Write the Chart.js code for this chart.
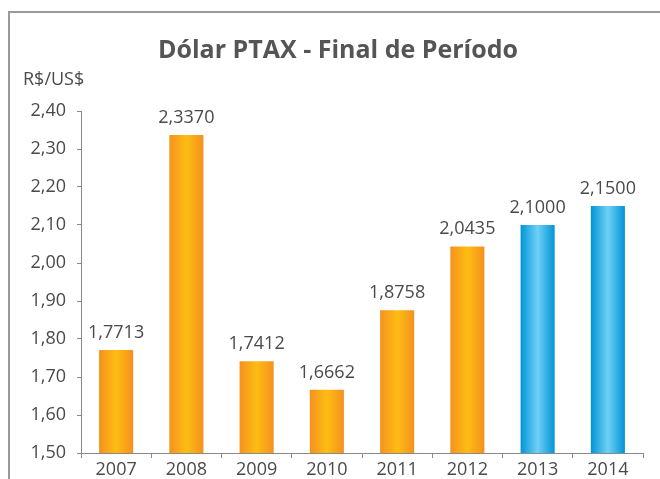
<!DOCTYPE html>
<html><head><meta charset="utf-8">
<script src="https://cdn.jsdelivr.net/npm/chart.js@4/dist/chart.umd.min.js"></script>
<style>
html,body{margin:0;padding:0;background:#fff;width:660px;height:479px;overflow:hidden;}
#frame{position:absolute;left:8px;top:11px;width:700px;height:520px;border-top:2px solid #9a9a9a;border-left:2px solid #9a9a9a;}
#c{position:absolute;left:0;top:0;}
</style></head>
<body>
<div id="frame"></div>
<canvas id="c" width="660" height="479"></canvas>
<script>
const categories = ['2007','2008','2009','2010','2011','2012','2013','2014'];
const values = [1.7713, 2.3370, 1.7412, 1.6662, 1.8758, 2.0435, 2.1000, 2.1500];
const isProjection = [false,false,false,false,false,false,true,true];
const yTicks = [1.5,1.6,1.7,1.8,1.9,2.0,2.1,2.2,2.3,2.4];
const titleText = 'Dólar PTAX - Final de Período';
const unitText = 'R$/US$';

const FONT = '"Open Sans", "Noto Sans", sans-serif';
const TXT = '#4a4a4a';
const BAR_PCT = 0.485;

function barFill(context){
  const chart = context.chart;
  const xs = chart.scales && chart.scales.x;
  const i = context.dataIndex;
  if(!xs || i === undefined || !isFinite(xs.getPixelForValue(i))) return '#f5a01a';
  const cx = xs.getPixelForValue(i);
  const w = (xs.width / categories.length) * BAR_PCT;
  const g = chart.ctx.createLinearGradient(cx - w/2, 0, cx + w/2, 0);
  if(isProjection[i]){
    g.addColorStop(0,'#0095d6'); g.addColorStop(0.5,'#6fd0f6'); g.addColorStop(1,'#0095d6');
  } else {
    g.addColorStop(0,'#f5911f'); g.addColorStop(0.5,'#fdbd12'); g.addColorStop(1,'#f5911f');
  }
  return g;
}

const labelPlugin = {
  id:'labels',
  afterDatasetsDraw(chart){
    const ctx = chart.ctx;
    ctx.save();
    ctx.font = '18px ' + FONT;
    ctx.fillStyle = TXT;
    ctx.textAlign = 'center';
    ctx.textBaseline = 'alphabetic';
    chart.getDatasetMeta(0).data.forEach((el,i)=>{
      ctx.fillText(values[i].toFixed(4).replace('.',','), el.x, el.y - 12);
    });
    ctx.restore();
  },
  afterDraw(chart){
    const ctx = chart.ctx;
    ctx.save();
    ctx.fillStyle = '#555';
    ctx.font = 'bold 25px ' + FONT;
    ctx.textAlign = 'center';
    ctx.textBaseline = 'middle';
    ctx.fillText(titleText, 338, 51);
    ctx.font = '18px ' + FONT;
    ctx.fillStyle = TXT;
    ctx.textAlign = 'left';
    ctx.fillText(unitText, 23, 80);
    ctx.restore();
  }
};

new Chart(document.getElementById('c'), {
  type:'bar',
  data:{labels:categories, datasets:[{data:values, borderWidth:0, categoryPercentage:1, barPercentage:BAR_PCT, backgroundColor:barFill}]},
  options:{
    responsive:false, animation:false,
    layout:{padding:{top:111, right:17, left:0, bottom:0}},
    plugins:{legend:{display:false}, tooltip:{enabled:false}, title:{display:false}},
    scales:{
      x:{
        offset:true,
        grid:{offset:true, drawOnChartArea:false, tickLength:5, color:'#8a8a8a'},
        border:{display:true, color:'#8a8a8a', width:1},
        ticks:{font:{family:FONT, size:18}, color:TXT, padding:1, maxRotation:0},
        afterFit(s){ s.height = 26; }
      },
      y:{
        min:1.5, max:2.4,
        afterBuildTicks(s){ s.ticks = yTicks.map(v=>({value:v})); },
        grid:{drawOnChartArea:false, tickLength:4, color:'#8a8a8a'},
        border:{display:true, color:'#8a8a8a', width:1},
        ticks:{font:{family:FONT, size:18}, color:TXT, padding:11,
          callback:(v)=>Number(v).toFixed(2).replace('.',',')},
        afterFit(s){ s.width = 81; }
      }
    }
  },
  plugins:[labelPlugin]
});
</script>
</body></html>
